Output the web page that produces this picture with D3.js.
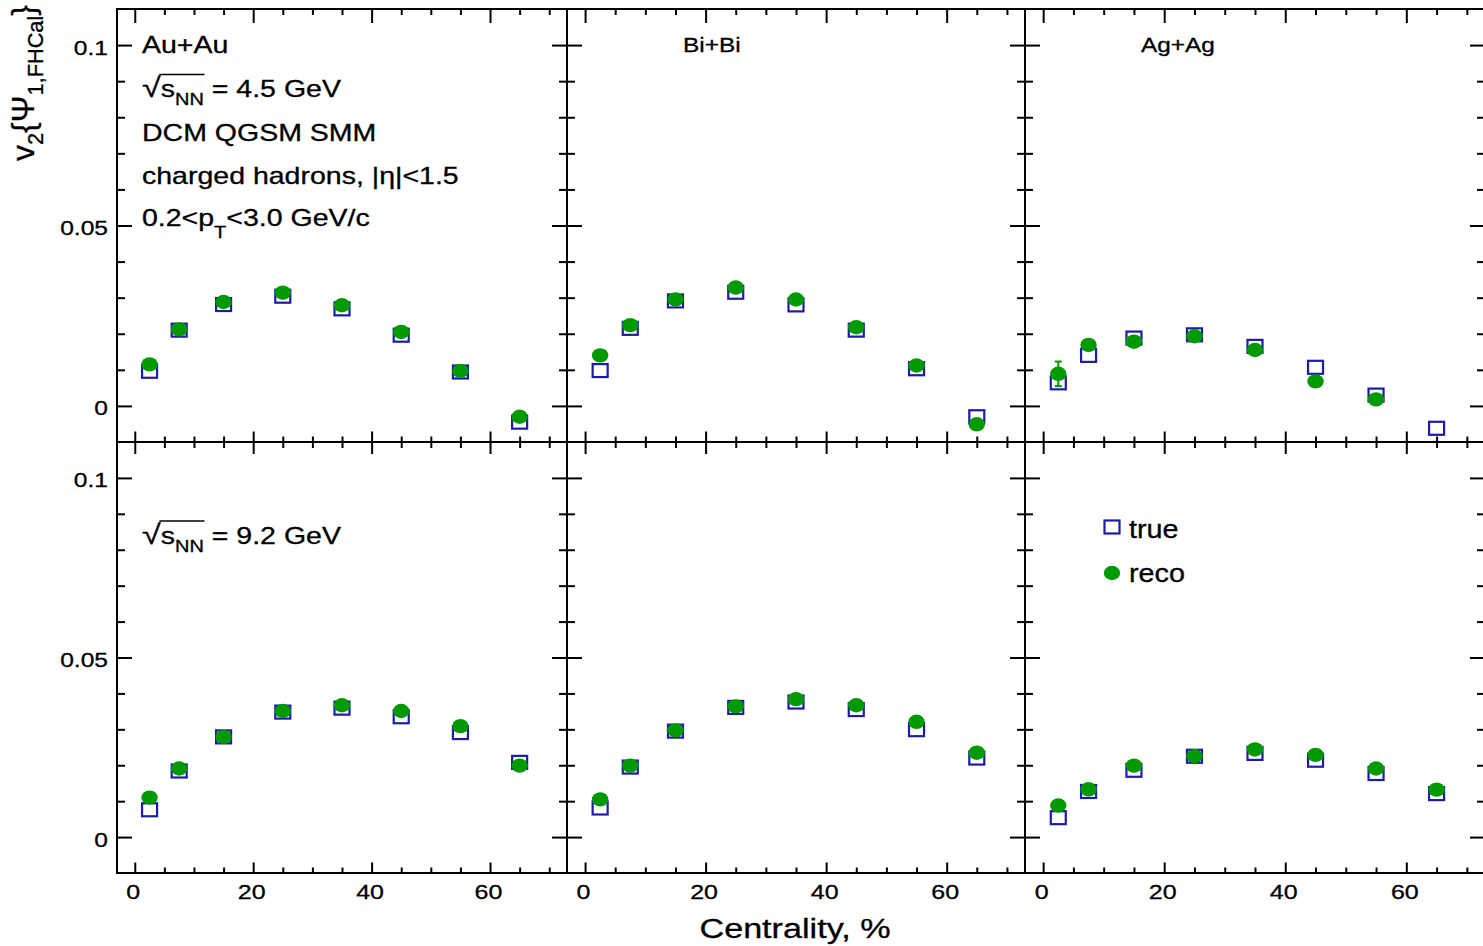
<!DOCTYPE html>
<html><head><meta charset="utf-8">
<script src="https://cdn.jsdelivr.net/npm/d3@7"></script>
<style>
body{margin:0;background:#fff}
svg{display:block}
text{font-family:"Liberation Sans",Arial,Helvetica,sans-serif;fill:#000;stroke:#000;stroke-width:0.3px}
</style>
</head><body>
<svg id="chart" width="1483" height="946"></svg>
<script>
// ---------------- data ----------------
const centrality = [2.5, 7.5, 15, 25, 35, 45, 55, 65];
const systems = ["Au+Au", "Bi+Bi", "Ag+Ag"];
const energies = ["4.5", "9.2"];
const seriesNames = ["true", "reco"];

// sqrt(sNN) = 4.5 GeV
const trueAu45 = [0.0096, 0.0210, 0.0281, 0.0304, 0.0269, 0.0196, 0.0094, -0.0045];
const recoAu45 = [0.0115, 0.0212, 0.0288, 0.0314, 0.0279, 0.0205, 0.0097, -0.0030];
const trueBi45 = [0.0098, 0.0215, 0.0291, 0.0315, 0.0280, 0.0210, 0.0103, -0.0030];
const recoBi45 = [0.0140, 0.0224, 0.0295, 0.0328, 0.0295, 0.0218, 0.0112, -0.0051];
const trueAg45 = [0.0064, 0.0140, 0.0188, 0.0197, 0.0165, 0.0107, 0.0030, -0.0062];
const recoAg45 = [0.0089, 0.0169, 0.0178, 0.0193, 0.0155, 0.0068, 0.0018, null];
const recoErrAg45 = [0.0034, 0, 0, 0, 0, 0, 0, 0];
// sqrt(sNN) = 9.2 GeV
const trueAu92 = [0.0076, 0.0184, 0.0279, 0.0348, 0.0359, 0.0335, 0.0291, 0.0208];
const recoAu92 = [0.0110, 0.0191, 0.0279, 0.0351, 0.0367, 0.0351, 0.0309, 0.0199];
const trueBi92 = [0.0081, 0.0195, 0.0295, 0.0361, 0.0376, 0.0355, 0.0299, 0.0220];
const recoBi92 = [0.0105, 0.0199, 0.0297, 0.0364, 0.0384, 0.0367, 0.0321, 0.0235];
const trueAg92 = [0.0054, 0.0127, 0.0186, 0.0225, 0.0233, 0.0214, 0.0177, 0.0121];
const recoAg92 = [0.0088, 0.0133, 0.0199, 0.0225, 0.0244, 0.0229, 0.0191, 0.0132];

const xMajorTicks = [0, 20, 40, 60];
const xMinorTicks = [5, 10, 15, 25, 30, 35, 45, 50, 55, 65, 70];
const yMajorTicks = [0, 0.05, 0.1];
const yMajorLabels = ["0", "0.05", "0.1"];
const yMinorTicks = [0.01, 0.02, 0.03, 0.04, 0.06, 0.07, 0.08, 0.09];

// ---------------- layout / style ----------------
const svg = d3.select("#chart");
const colEdges = [117, 567, 1025, 1485];
const rowEdges = [9, 442, 873];
const xDomain = [-3, 73], yDomain = [-0.01, 0.11];
const BLUE = "#1c1ca6", GREEN = "#009a00";

const panels = [
  [[trueAu45, recoAu45, null], [trueBi45, recoBi45, null], [trueAg45, recoAg45, recoErrAg45]],
  [[trueAu92, recoAu92, null], [trueBi92, recoBi92, null], [trueAg92, recoAg92, null]]
];

function richText(parent, x, y, segs, o) {
  let tr = `translate(${x},${y})`;
  if (o.sx && o.sx !== 1) tr += ` scale(${o.sx},1)`;
  if (o.rotate) tr += ` rotate(${o.rotate})`;
  const g = parent.append("g").attr("transform", tr);
  const t = g.append("text").attr("font-size", o.fs).attr("text-anchor", o.anchor || "start");
  let cur = 0;
  segs.forEach(s => {
    const off = (s.sub || 0) * o.fs;
    const ts = t.append("tspan").text(s.t).attr("font-size", o.fs * (s.size || 1));
    if (Math.abs(off - cur) > 1e-6) { ts.attr("dy", off - cur); cur = off; }
  });
  return {g, t};
}

function sqrtText(parent, x, y, rest, fs, sx) {
  const r = richText(parent, x, y, [
    {t: "√", size: 1.2}, {t: "s"}, {t: "NN", sub: 0.36, size: 0.7}, {t: rest}
  ], {fs, sx});
  const n = r.t.node();
  const e0 = n.getExtentOfChar(0), e3 = n.getExtentOfChar(3);
  r.g.append("line")
    .attr("x1", e0.x + e0.width - 1.2).attr("x2", e3.x + e3.width + 0.5)
    .attr("y1", -fs * 0.98).attr("y2", -fs * 0.98)
    .attr("stroke", "#000").attr("stroke-width", 1.5);
  return r;
}

function tickAxis(g, gen, tr, vals, len) {
  g.append("g").attr("transform", tr)
    .call(gen.tickValues(vals).tickSize(len).tickFormat(""))
    .call(a => a.select(".domain").remove())
    .call(a => a.selectAll("line").attr("stroke", "#000").attr("stroke-width", 2));
}

for (let r = 0; r < 2; r++) {
  for (let c = 0; c < 3; c++) {
    const x0 = colEdges[c], x1 = colEdges[c + 1];
    const y0 = rowEdges[r], y1 = rowEdges[r + 1];
    const x = d3.scaleLinear().domain(xDomain).range([x0, x1]);
    const y = d3.scaleLinear().domain(yDomain).range([y1, y0]);
    const g = svg.append("g");

    // ticks (inward on all sides)
    const topLen = r === 0 ? 14 : 12;
    tickAxis(g, d3.axisTop(x), `translate(0,${y1})`, xMajorTicks, 10.5);
    tickAxis(g, d3.axisTop(x), `translate(0,${y1})`, xMinorTicks, 5.5);
    tickAxis(g, d3.axisBottom(x), `translate(0,${y0})`, xMajorTicks, topLen);
    tickAxis(g, d3.axisBottom(x), `translate(0,${y0})`, xMinorTicks, 6);
    tickAxis(g, d3.axisRight(y), `translate(${x0},0)`, yMajorTicks, 15);
    tickAxis(g, d3.axisRight(y), `translate(${x0},0)`, yMinorTicks, 8);
    tickAxis(g, d3.axisLeft(y), `translate(${x1},0)`, yMajorTicks, 15);
    tickAxis(g, d3.axisLeft(y), `translate(${x1},0)`, yMinorTicks, 8);

    // frame
    g.append("rect").attr("x", x0).attr("y", y0).attr("width", x1 - x0).attr("height", y1 - y0)
      .attr("fill", "none").attr("stroke", "#000").attr("stroke-width", 2);

    // tick labels
    if (c === 0) {
      g.append("g").attr("transform", `translate(${x0},0)`)
        .call(d3.axisLeft(y).tickValues(yMajorTicks).tickSize(0).tickFormat((d, i) => yMajorLabels[i]))
        .attr("font-size", null).attr("font-family", null)
        .call(a => a.select(".domain").remove())
        .call(a => a.selectAll("text").attr("x", 0).attr("dy", null).attr("fill", "#000")
          .attr("font-size", 20.5).attr("transform", "translate(-9,9) scale(1.2,1)"));
    }
    if (r === 1) {
      g.append("g").attr("transform", `translate(0,${y1})`)
        .call(d3.axisBottom(x).tickValues(xMajorTicks).tickSize(0).tickFormat(d3.format("d")))
        .attr("font-size", null).attr("font-family", null)
        .call(a => a.select(".domain").remove())
        .call(a => a.selectAll("text").attr("y", 0).attr("dy", null).attr("fill", "#000")
          .attr("font-size", 20.5).attr("transform", "translate(-2,25.5) scale(1.22,1)"));
    }

    // data
    const [tv, rv, re] = panels[r][c];
    const pts = centrality.map((cv, i) => ({c: cv, t: tv[i], r: rv[i], e: re ? re[i] : 0}));
    g.selectAll("rect.true").data(pts.filter(d => d.t !== null)).join("rect")
      .attr("class", "true")
      .attr("x", d => x(d.c) - 7.5).attr("y", d => y(d.t) - 6.5)
      .attr("width", 15).attr("height", 13)
      .attr("fill", "none").attr("stroke", BLUE).attr("stroke-width", 2.2);
    const withErr = pts.filter(d => d.r !== null && d.e > 0);
    g.selectAll("line.err").data(withErr).join("line").attr("class", "err")
      .attr("x1", d => x(d.c)).attr("x2", d => x(d.c))
      .attr("y1", d => y(d.r - d.e)).attr("y2", d => y(d.r + d.e))
      .attr("stroke", GREEN).attr("stroke-width", 2);
    [-1, 1].forEach(s => {
      g.selectAll("line.cap" + (s > 0 ? "p" : "m")).data(withErr).join("line")
        .attr("class", "cap" + (s > 0 ? "p" : "m"))
        .attr("x1", d => x(d.c) - 3.5).attr("x2", d => x(d.c) + 3.5)
        .attr("y1", d => y(d.r + s * d.e)).attr("y2", d => y(d.r + s * d.e))
        .attr("stroke", GREEN).attr("stroke-width", 2);
    });
    g.selectAll("ellipse.reco").data(pts.filter(d => d.r !== null)).join("ellipse")
      .attr("class", "reco")
      .attr("cx", d => x(d.c)).attr("cy", d => y(d.r))
      .attr("rx", 8.2).attr("ry", 7.2).attr("fill", GREEN);
  }
}

// ---------------- annotations ----------------
const PSX = 1.24, PFS = 23;
richText(svg, 142, 53, [{t: systems[0]}], {fs: PFS, sx: PSX});
sqrtText(svg, 142, 97, " = " + energies[0] + " GeV", PFS, PSX);
richText(svg, 142, 140.5, [{t: "DCM QGSM SMM"}], {fs: PFS, sx: PSX});
richText(svg, 142, 184, [{t: "charged hadrons, |η|<1.5"}], {fs: PFS, sx: PSX});
richText(svg, 142, 225.5, [{t: "0.2<p"}, {t: "T", sub: 0.55, size: 0.7}, {t: "<3.0 GeV/c"}], {fs: PFS, sx: PSX});
richText(svg, 683, 52, [{t: systems[1]}], {fs: 20, sx: 1.22});
richText(svg, 1141, 52, [{t: systems[2]}], {fs: 20, sx: 1.22});
sqrtText(svg, 142, 543.5, " = " + energies[1] + " GeV", PFS, PSX);

// legend
svg.append("rect").attr("x", 1112 - 7.5).attr("y", 527 - 6.5).attr("width", 15).attr("height", 13)
  .attr("fill", "none").attr("stroke", BLUE).attr("stroke-width", 2.2);
svg.append("ellipse").attr("cx", 1112).attr("cy", 573).attr("rx", 8.2).attr("ry", 7.2).attr("fill", GREEN);
richText(svg, 1129, 537.5, [{t: seriesNames[0]}], {fs: 25, sx: 1.15});
richText(svg, 1129, 582, [{t: seriesNames[1]}], {fs: 25, sx: 1.15});

// axis titles
richText(svg, 795, 937.5, [{t: "Centrality, %"}], {fs: 28, sx: 1.22, anchor: "middle"});
richText(svg, 34, 5, [
  {t: "v"}, {t: "2", sub: 0.28, size: 0.68}, {t: "{"}, {t: "Ψ"},
  {t: "1,FHCal", sub: 0.28, size: 0.68}, {t: "}"}
], {fs: 32, rotate: -90, anchor: "end"});
</script>
</body></html>
